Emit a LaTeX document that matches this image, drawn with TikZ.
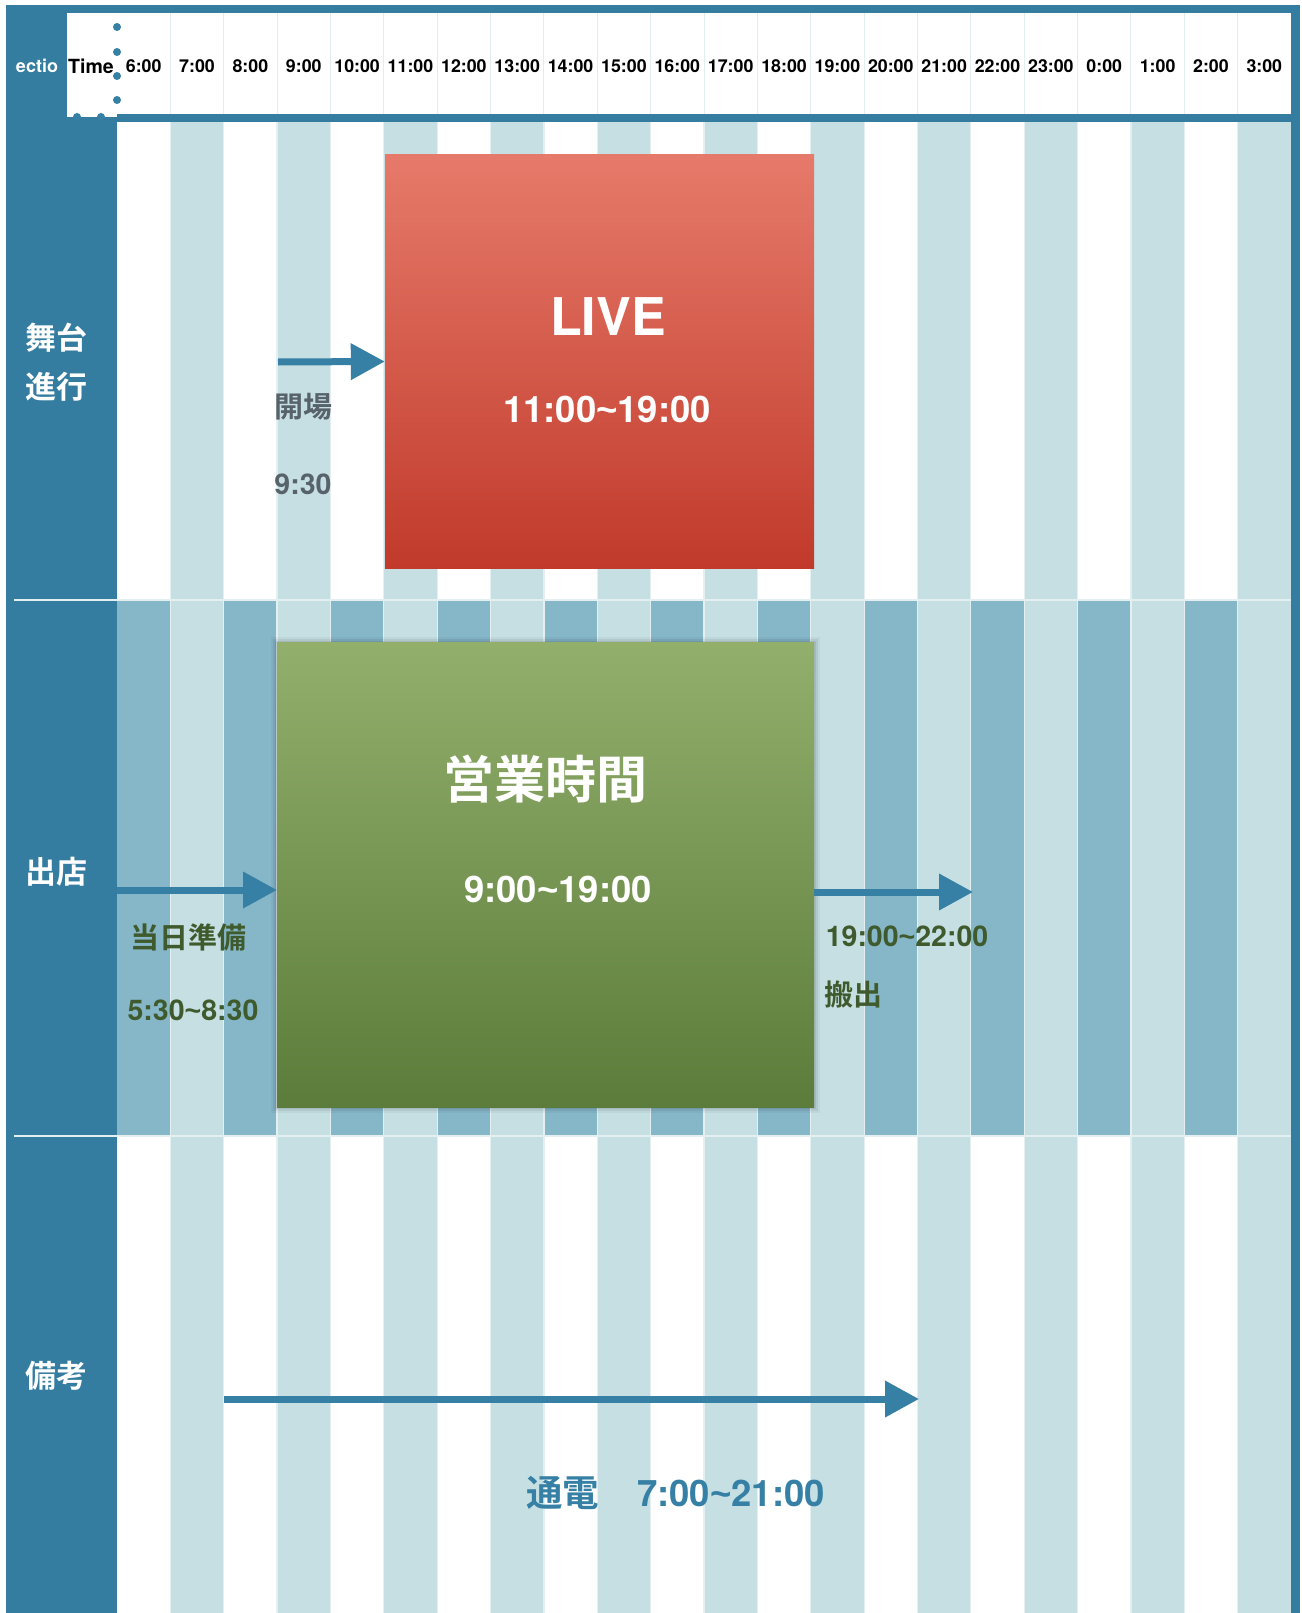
\documentclass[tikz,border=0pt]{standalone}
\usepackage{fontspec}
\setmainfont{TeX Gyre Heros}
\newfontfamily\jp{Noto Sans CJK JP}[BoldFont={Noto Sans CJK JP Bold}]
\newfontfamily\tildefont{Liberation Sans}
\usetikzlibrary{arrows.meta}
\definecolor{panelblue}{HTML}{357DA0}
\definecolor{arrowblue}{HTML}{3580A4}
\definecolor{lightstripe}{HTML}{C5DFE3}
\definecolor{midstripe}{HTML}{86B7C9}
\definecolor{sepcol}{HTML}{E4EFF2}
\definecolor{hdrsep}{HTML}{E2EDF2}
\definecolor{livetop}{HTML}{E67A6A}
\definecolor{livebot}{HTML}{C13A2B}
\definecolor{greentop}{HTML}{93AF6C}
\definecolor{greenbot}{HTML}{5B7C3A}
\definecolor{greytext}{HTML}{58626B}
\definecolor{greentext}{HTML}{3F5A2C}
\newcommand\tld{{\tildefont\bfseries\char"7E}}
\tikzset{
  hdrlabel/.style={font=\bfseries\fontsize{17.8}{20}\selectfont, text=black, inner sep=0pt},
  seclabel/.style={font=\jp\bfseries\fontsize{31}{49}\selectfont, text=white, align=left, inner sep=0pt, anchor=west},
  bigarrow/.style={draw=arrowblue, line width=7pt, -{Triangle[length=34pt,width=35pt]}},
  smalljp/.style={font=\jp\bfseries\fontsize{29}{32}\selectfont, inner sep=0pt},
  smallnum/.style={font=\bfseries\fontsize{28.5}{32}\selectfont, inner sep=0pt},
  dot/.style={fill=arrowblue, draw=none},
}
\begin{document}
\begin{tikzpicture}[x=1pt,y=-1pt]
\useasboundingbox (0,0) rectangle (1301,1613);
\fill[white] (0,0) rectangle (1301,1613);
% frame / panel
\fill[panelblue] (6,5) rectangle (1300,1613);
\fill[white] (67,13) rectangle (1291,114);
\fill[white] (67,114) rectangle (117,117);
\fill[white] (117,122) rectangle (1291,1613);
% stripes
\foreach \i in {1,3,...,21}
  \fill[lightstripe] (117+\i*53.3636,122) rectangle (117+\i*53.3636+53.3636,1613);
\foreach \i in {0,2,...,20}
  \fill[midstripe] (117+\i*53.3636,600) rectangle (117+\i*53.3636+53.3636,1136);
% column separators
\foreach \i in {1,...,21}{
  \draw[sepcol, line width=1.2pt] (117+\i*53.3636,122) -- (117+\i*53.3636,1613);
  \draw[hdrsep, line width=1pt] (117+\i*53.3636,13) -- (117+\i*53.3636,114);
}
% row separators
\draw[sepcol, line width=1.5pt] (14,600) -- (1291,600);
\draw[sepcol, line width=1.5pt] (14,1136) -- (1291,1136);
% dotted border of the Time cell
\foreach \y in {27,52,76,100}
  \fill[dot] (117,\y) circle (4);
\fill[dot] (77,117) circle (4);
\fill[dot] (101,117) circle (4);
% header labels
\begin{scope}
  \clip (15,13) rectangle (58,114);
  \node[font=\bfseries\fontsize{18}{20}\selectfont, text=white, inner sep=0pt] (sectionlbl) at (36.5,66) {Section};
\end{scope}
\node[font=\bfseries\fontsize{19.5}{22}\selectfont, inner sep=0pt] (timelbl) at (91,66) {Time};
\foreach \t [count=\n from 0] in {6:00,7:00,8:00,9:00,10:00,11:00,12:00,13:00,14:00,15:00,16:00,17:00,18:00,19:00,20:00,21:00,22:00,23:00,0:00,1:00,2:00,3:00}
  \node[hdrlabel] (hdr\n) at (117+\n*53.3636+26.68,66) {\t};
% section labels
\node[seclabel] (sec1) at (25,362) {舞台\\進行};
\node[seclabel] (sec2) at (25,872) {出店};
\node[seclabel] (sec3) at (25,1376) {備考};
% LIVE box
\node[draw=none, top color=livetop, bottom color=livebot, minimum width=429pt, minimum height=413pt, inner sep=0pt] (live) at (599.5,361.5) {};
\node[font=\bfseries\fontsize{52}{56}\selectfont, text=white, inner sep=0pt] (livetitle) at (608,317) {LIVE};
\node[font=\bfseries\fontsize{36.5}{40}\selectfont, text=white, inner sep=0pt] (livetime) at (607,409) {11:00\tld19:00};
% green box with soft shadow
\foreach \k/\o in {6/0.04,4/0.06,2/0.08}
  \fill[black, opacity=\o] (277-\k,642-\k+1) rectangle (814+\k,1107+\k);
\node[draw=none, top color=greentop, bottom color=greenbot, minimum width=537pt, minimum height=465pt, inner sep=0pt] (shop) at (545.5,874.5) {};
\node[font=\jp\bfseries\fontsize{51}{56}\selectfont, text=white, inner sep=0pt] (shoptitle) at (545,779) {営業時間};
\node[font=\bfseries\fontsize{36.5}{40}\selectfont, text=white, inner sep=0pt] (shoptime) at (558,889) {9:00\tld19:00};
% arrows
\coordinate (a1s) at (278,362);
\draw[bigarrow] (a1s) -- (live.west);
\coordinate (a2s) at (117,890);
\coordinate (a2e) at (277,890);
\draw[bigarrow] (a2s) -- (a2e);
\coordinate (a3s) at (814,892);
\coordinate (a3e) at (973,892);
\draw[bigarrow] (a3s) -- (a3e);
\coordinate (a4s) at (224,1399);
\coordinate (a4e) at (919,1399);
\draw[bigarrow] (a4s) -- (a4e);
% arrow labels
\node[smalljp, text=greytext] (openlbl) at (303,407) {開場};
\node[smallnum, text=greytext] (opentime) at (303,484) {9:30};
\node[smalljp, text=greentext] (preplbl) at (188,937) {当日準備};
\node[smallnum, text=greentext] (preptime) at (193,1010) {5:30\tld8:30};
\node[smallnum, text=greentext] (outtime) at (907,936) {19:00\tld22:00};
\node[smalljp, text=greentext] (outlbl) at (853,995) {搬出};
\node[anchor=base west, inner sep=0pt, text=arrowblue, font=\bfseries\fontsize{36.5}{40}\selectfont] (power) at (526,1506) {{\jp 通電}\hspace{38pt}7:00\tld21:00};
\end{tikzpicture}
\end{document}
